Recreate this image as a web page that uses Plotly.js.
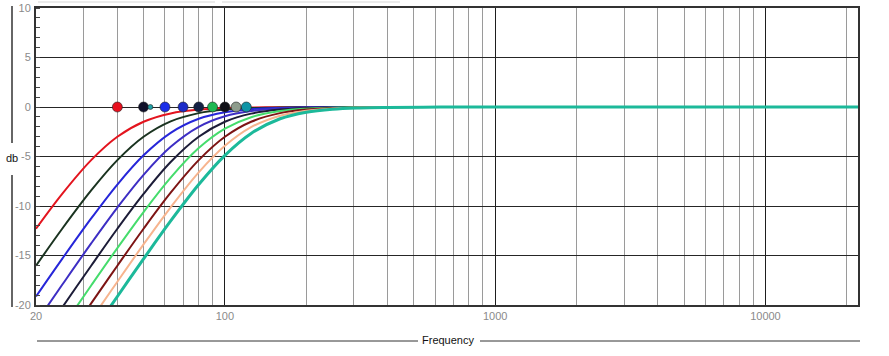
<!DOCTYPE html>
<html><head><meta charset="utf-8">
<script src="https://cdn.plot.ly/plotly-3.0.1.min.js"></script>
<style>html,body{margin:0;padding:0;background:#fff}#chart{width:889px;height:356px}</style>
</head><body><div id="chart"></div>
<script>
// Frequency grid (Hz) at which the curves were read
const freq = [20,25,32,40,50,63,80,100,125,160,200,250,315,400,630,1000,22000];
// Curve values (dB), one array per filter
const db40  = [-12.30,-8.78,-5.37,-3.01,-1.49,-0.65,-0.26,-0.11,-0.05,-0.02,-0.01,0,0,0,0,0,0];
const db50  = [-16.03,-12.30,-8.43,-5.37,-3.01,-1.45,-0.62,-0.26,-0.11,-0.04,-0.02,-0.01,0,0,0,0,0];
const db60  = [-19.14,-15.34,-11.26,-7.83,-4.88,-2.61,-1.19,-0.53,-0.22,-0.09,-0.04,-0.01,-0.01,0,0,0,0];
const db70  = [-21.79,-17.96,-13.78,-10.16,-6.85,-4.02,-2.00,-0.93,-0.41,-0.16,-0.07,-0.03,-0.01,0,0,0,0];
const db80  = [-24.10,-20.25,-16.03,-12.30,-8.78,-5.56,-3.01,-1.49,-0.67,-0.26,-0.11,-0.05,-0.02,-0.01,0,0,0];
const db90  = [-26.14,-22.28,-18.03,-14.25,-10.61,-7.13,-4.15,-2.19,-1.03,-0.41,-0.17,-0.07,-0.03,-0.01,0,0,0];
const db100 = [-27.97,-24.10,-19.84,-16.03,-12.30,-8.66,-5.37,-3.01,-1.49,-0.62,-0.26,-0.11,-0.04,-0.02,0,0,0];
const db110 = [-29.62,-25.75,-21.48,-17.65,-13.88,-10.13,-6.60,-3.92,-2.04,-0.88,-0.38,-0.16,-0.06,-0.03,0,0,0];
const db120 = [-31.13,-27.26,-22.98,-19.14,-15.34,-11.51,-7.83,-4.88,-2.67,-1.19,-0.53,-0.22,-0.09,-0.04,-0.01,0,0];

const curves = [db40, db50, db60, db70, db80, db90, db100, db110, db120];
const curveColors = ['#e3141e','#1a3320','#2626d9','#3d2ec4','#1c1c38','#45dc6c','#7d1414','#f7b48e','#1cb99a'];
const curveWidths = [2,2,2,2,2,2,2,2,3];

// Markers at 0 dB
const markerFreq = [40,50,53,60,70,80,90,100,110,120];
const markerDb = [0,0,0,0,0,0,0,0,0,0];
const markerColors = ['#e8101e','#10102a','#1fa3a8','#1a2ee8','#1c2cc8','#142044','#1eb852','#101016','#8e9c8c','#0f94a6'];
const markerSizes = [10,10,5,10,10,10,10,10,10,10];

// Axis ticks
const xMajor = [20,100,1000,10000];
const xMajorText = ['20','100','1000','10000'];
const xMinor = [30,40,50,60,70,80,90,200,300,400,500,600,700,800,900,2000,3000,4000,5000,6000,7000,8000,9000,20000];
const yTicks = [-20,-15,-10,-5,0,5,10];
const yTickText = ['-20','-15','-10','-5','0','5','10'];

const traces = curves.map((c,i)=>({
  x: freq, y: c, type:'scatter', mode:'lines',
  line:{color:curveColors[i], width:curveWidths[i], shape:'spline', smoothing:1},
  hoverinfo:'skip', showlegend:false
}));
traces.push({
  x: markerFreq, y: markerDb, type:'scatter', mode:'markers', opacity:1,
  marker:{color:markerColors, size:markerSizes, opacity:1, line:{color:'#222', width:0.6}},
  cliponaxis:false, showlegend:false, hoverinfo:'skip'
});

const fontT = 'Liberation Sans, Arial, sans-serif';
const layout = {
  width:889, height:356,
  margin:{l:36, r:31, t:8, b:51},
  paper_bgcolor:'#fff', plot_bgcolor:'#fff',
  showlegend:false,
  xaxis:{
    type:'log', range:[Math.log10(20), Math.log10(22000)],
    tickmode:'array', tickvals:xMajor, ticktext:xMajorText,
    showgrid:true, gridcolor:'#1e1e1e', gridwidth:1,
    ticks:'', zeroline:false,
    showline:true, linecolor:'#333', linewidth:2, mirror:true,
    tickfont:{family:fontT, size:11, color:'#8a8a8a'},
    minor:{tickmode:'array', tickvals:xMinor, showgrid:true, gridcolor:'#9a9a9a', gridwidth:1, ticks:''}
  },
  yaxis:{
    range:[-20,10], tickmode:'array', tickvals:yTicks, ticktext:yTickText,
    showgrid:true, gridcolor:'#262626', gridwidth:1,
    ticks:'', zeroline:false,
    showline:true, linecolor:'#333', linewidth:2, mirror:true,
    tickfont:{family:fontT, size:11, color:'#8a8a8a'},
    ticklabelstandoff:1,
    minor:{dtick:1, ticks:'inside', ticklen:4, tickcolor:'#444', tickwidth:1, showgrid:false}
  },
  annotations:[
    {xref:'paper', yref:'paper', x:(448-36)/822, y:(305-340)/297, text:'Frequency', showarrow:false,
     font:{family:fontT, size:11, color:'#111'}, xanchor:'center', yanchor:'middle'},
    {xref:'paper', yref:'paper', x:(12-36)/822, y:(305-158)/297, text:'db', showarrow:false,
     font:{family:fontT, size:11, color:'#111'}, xanchor:'center', yanchor:'middle'}
  ],
  shapes:[
    {type:'line', xref:'paper', yref:'paper', x0:(37-36)/822, x1:(418-36)/822, y0:(305-341)/297, y1:(305-341)/297, line:{color:'#333', width:1}},
    {type:'line', xref:'paper', yref:'paper', x0:(480-36)/822, x1:(860-36)/822, y0:(305-341)/297, y1:(305-341)/297, line:{color:'#333', width:1}},
    {type:'line', xref:'paper', yref:'paper', x0:(12-36)/822, x1:(12-36)/822, y0:(305-6)/297, y1:(305-143)/297, line:{color:'#333', width:1.5}},
    {type:'line', xref:'paper', yref:'paper', x0:(12-36)/822, x1:(12-36)/822, y0:(305-175)/297, y1:(305-307)/297, line:{color:'#333', width:1.5}},
    {type:'line', xref:'paper', yref:'paper', x0:(38-36)/822, x1:(215-36)/822, y0:(305-2)/297, y1:(305-2)/297, line:{color:'#e4e4e4', width:1.5}},
    {type:'line', xref:'paper', yref:'paper', x0:(222-36)/822, x1:(400-36)/822, y0:(305-2)/297, y1:(305-2)/297, line:{color:'#e4e4e4', width:1.5}}
  ]
};
Plotly.newPlot('chart', traces, layout, {staticPlot:true, displayModeBar:false});
</script>
</body></html>
